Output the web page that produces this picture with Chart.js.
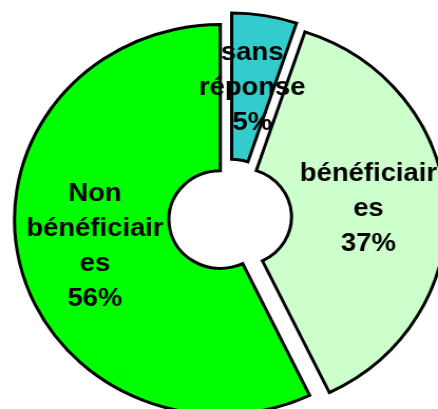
<!DOCTYPE html>
<html>
<head>
<meta charset="utf-8">
<script src="https://cdn.jsdelivr.net/npm/chart.js@4.4.0/dist/chart.umd.min.js"></script>
<style>
  html, body { margin: 0; padding: 0; background: #fff; overflow: hidden; }
  /* the doughnut is shown slightly wider than tall */
  #chart { display: block; transform: scaleX(1.0554); transform-origin: 0 0; }
</style>
</head>
<body>
<canvas id="chart" width="415" height="409"></canvas>
<script>
const categories = ["sans réponse", "bénéficiaires", "Non bénéficiaires"];
const percentages = [5, 37, 56];
// how each category name wraps inside its slice
const labelLines = [["sans", "réponse"], ["bénéficiair", "es"], ["Non", "bénéficiair", "es"]];
const sliceColors = ["#33CCCC", "#CCFFCC", "#00FF00"];

const explodeGap = 9.5;

// pulls every slice outwards along its middle angle
const explode = {
  id: "explode",
  afterDatasetsUpdate(chart) {
    chart.getDatasetMeta(0).data.forEach(arc => {
      const mid = (arc.startAngle + arc.endAngle) / 2;
      arc.x += Math.cos(mid) * explodeGap;
      arc.y += Math.sin(mid) * explodeGap;
    });
  }
};

// writes the wrapped name and percentage in the middle of each slice
const sliceLabels = {
  id: "sliceLabels",
  afterDatasetsDraw(chart) {
    const ctx = chart.ctx;
    const meta = chart.getDatasetMeta(0);
    const lh = 35;
    ctx.save();
    ctx.font = 'bold 26px "Liberation Sans", Arial, sans-serif';
    ctx.fillStyle = "#000";
    ctx.textAlign = "center";
    ctx.textBaseline = "middle";
    meta.data.forEach((arc, i) => {
      const pos = arc.getCenterPoint();
      const lines = labelLines[i].concat(percentages[i] + "%");
      const top = pos.y - (lines.length - 1) * lh / 2;
      lines.forEach((t, j) => ctx.fillText(t, pos.x, top + j * lh));
    });
    ctx.restore();
  }
};

new Chart(document.getElementById("chart"), {
  type: "doughnut",
  data: {
    labels: categories,
    datasets: [{
      data: percentages,
      backgroundColor: sliceColors,
      borderColor: "#000",
      borderWidth: 3,
      borderJoinStyle: "miter",
      hoverOffset: 0,
      clip: false,
    }],
  },
  options: {
    responsive: false,
    animation: false,
    events: [],
    radius: 195,
    cutout: "25%",
    layout: { padding: { left: 21, top: 26, right: 0, bottom: 0 } },
    plugins: {
      legend: { display: false },
      tooltip: { enabled: false },
    },
  },
  plugins: [explode, sliceLabels],
});
</script>
</body>
</html>
